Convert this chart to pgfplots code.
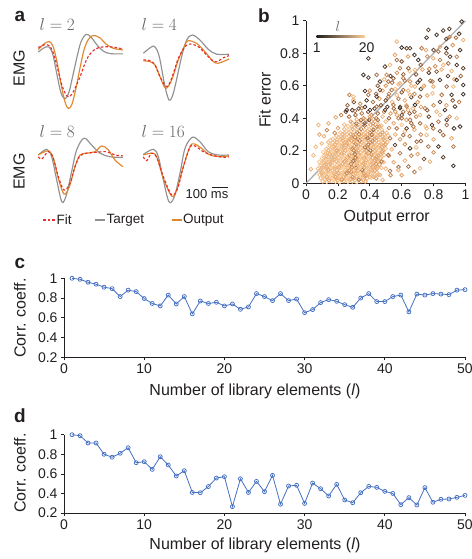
\documentclass[border=0pt]{standalone}
\usepackage{pgfplots}
\pgfplotsset{compat=1.18}
\usepackage{pgfplotstable}
\usepackage{fontspec}
\setmainfont{Liberation Sans}

\definecolor{txt}{RGB}{35,31,32}
\definecolor{tgtgray}{RGB}{145,145,145}
\definecolor{outorange}{RGB}{222,135,45}
\definecolor{fitred}{RGB}{232,45,45}
\definecolor{corrblue}{RGB}{70,112,192}
\definecolor{diaggray}{RGB}{175,175,175}
\definecolor{cbA}{RGB}{35,30,28}
\definecolor{cbB}{RGB}{170,110,65}
\definecolor{cbC}{RGB}{252,208,158}

\newcommand{\ticksize}{\fontsize{14}{16}\selectfont}
\newcommand{\labsize}{\fontsize{16}{18}\selectfont}
\newcommand{\panelsize}{\fontsize{19}{21}\selectfont\bfseries}

% correlation coefficient vs number of library elements
\pgfplotstableread{
l r
1 1.00
2 0.99
3 0.96
4 0.94
5 0.91
6 0.895
7 0.815
8 0.88
9 0.865
10 0.795
11 0.745
12 0.72
13 0.83
14 0.74
15 0.815
16 0.64
17 0.77
18 0.745
19 0.757
20 0.72
21 0.74
22 0.686
23 0.71
24 0.845
25 0.815
26 0.774
27 0.845
28 0.774
29 0.79
30 0.652
31 0.683
32 0.754
33 0.784
34 0.767
35 0.733
36 0.706
37 0.80
38 0.845
39 0.764
40 0.764
41 0.815
42 0.83
43 0.66
44 0.84
45 0.83
46 0.845
47 0.84
48 0.835
49 0.88
50 0.885
}\corrC

\pgfplotstableread{
l r
1 1.00
2 0.99
3 0.915
4 0.915
5 0.80
6 0.77
7 0.81
8 0.867
9 0.714
10 0.724
11 0.646
12 0.775
13 0.69
14 0.578
15 0.632
16 0.41
17 0.407
18 0.47
19 0.557
20 0.571
21 0.265
22 0.55
23 0.41
24 0.523
25 0.418
26 0.585
27 0.29
28 0.476
29 0.483
30 0.298
31 0.506
32 0.448
33 0.374
34 0.493
35 0.333
36 0.305
37 0.407
38 0.472
39 0.462
40 0.421
41 0.40
42 0.285
43 0.357
44 0.282
45 0.459
46 0.31
47 0.34
48 0.343
49 0.36
50 0.38
}\corrD

% output error, fit error, number of library elements
\pgfplotstableread{
x y l
0.105 0.012 18
0.130 0.008 16
0.158 0.014 19
0.185 0.010 17
0.210 0.006 20
0.238 0.013 15
0.262 0.009 18
0.290 0.012 17
0.318 0.007 19
0.345 0.013 16
0.372 0.010 14
0.092 0.032 17
0.118 0.027 19
0.145 0.034 18
0.170 0.028 20
0.197 0.033 16
0.224 0.029 18
0.250 0.035 17
0.276 0.028 19
0.303 0.033 15
0.330 0.029 18
0.356 0.034 17
0.383 0.030 16
0.410 0.035 19
0.440 0.030 13
0.085 0.052 18
0.112 0.048 17
0.138 0.055 20
0.163 0.050 16
0.190 0.054 18
0.216 0.047 19
0.243 0.053 15
0.268 0.049 18
0.295 0.055 17
0.320 0.048 20
0.348 0.053 16
0.374 0.050 12
0.400 0.055 18
0.428 0.049 17
0.455 0.053 15
0.100 0.072 16
0.126 0.068 19
0.152 0.074 17
0.178 0.069 18
0.205 0.073 20
0.230 0.067 16
0.257 0.074 18
0.283 0.070 11
0.310 0.075 17
0.336 0.068 19
0.362 0.073 16
0.390 0.070 18
0.415 0.075 14
0.443 0.069 17
0.075 0.090 18
0.100 0.095 15
0.128 0.088 17
0.155 0.093 19
0.180 0.089 16
0.207 0.094 18
0.233 0.088 20
0.260 0.093 17
0.286 0.089 19
0.312 0.095 9
0.338 0.090 18
0.365 0.094 16
0.392 0.088 17
0.418 0.093 19
0.446 0.090 15
0.472 0.095 17
0.090 0.112 17
0.117 0.108 19
0.143 0.114 16
0.168 0.109 18
0.195 0.113 20
0.222 0.107 17
0.248 0.114 15
0.273 0.110 18
0.300 0.115 19
0.326 0.108 10
0.353 0.113 17
0.380 0.109 18
0.406 0.114 16
0.433 0.110 19
0.460 0.115 14
0.083 0.132 19
0.110 0.128 16
0.136 0.135 18
0.162 0.130 17
0.188 0.134 19
0.214 0.128 20
0.240 0.133 16
0.266 0.129 18
0.292 0.135 17
0.318 0.130 12
0.345 0.134 19
0.371 0.128 16
0.397 0.133 18
0.423 0.129 17
0.450 0.134 15
0.487 0.130 17
0.100 0.152 18
0.126 0.148 15
0.153 0.154 19
0.178 0.149 17
0.205 0.155 18
0.230 0.148 16
0.257 0.153 20
0.283 0.150 17
0.310 0.155 11
0.335 0.148 18
0.362 0.153 16
0.388 0.149 19
0.414 0.155 17
0.440 0.150 14
0.468 0.154 18
0.115 0.172 17
0.142 0.168 19
0.167 0.174 16
0.193 0.169 18
0.220 0.173 20
0.246 0.168 17
0.272 0.174 9
0.298 0.170 18
0.325 0.175 16
0.350 0.168 19
0.377 0.173 12
0.403 0.169 17
0.430 0.174 18
0.456 0.170 15
0.490 0.174 17
0.520 0.169 14
0.108 0.192 19
0.135 0.188 16
0.160 0.194 18
0.187 0.190 17
0.213 0.195 19
0.238 0.188 15
0.265 0.193 18
0.290 0.189 20
0.316 0.195 10
0.342 0.190 17
0.368 0.194 18
0.395 0.188 16
0.420 0.193 19
0.447 0.189 17
0.475 0.195 13
0.128 0.212 17
0.155 0.208 18
0.180 0.214 16
0.207 0.209 19
0.233 0.213 17
0.260 0.208 18
0.286 0.214 12
0.312 0.210 17
0.338 0.215 19
0.364 0.209 16
0.390 0.213 8
0.417 0.209 18
0.443 0.214 17
0.470 0.210 15
0.500 0.214 18
0.538 0.209 16
0.148 0.232 18
0.174 0.228 16
0.200 0.234 19
0.226 0.229 17
0.252 0.235 15
0.278 0.228 18
0.305 0.233 17
0.330 0.229 11
0.357 0.234 18
0.383 0.230 16
0.410 0.235 19
0.436 0.229 17
0.462 0.234 14
0.490 0.230 17
0.140 0.252 17
0.167 0.248 19
0.193 0.254 16
0.220 0.249 18
0.245 0.255 17
0.272 0.248 20
0.298 0.253 10
0.324 0.249 17
0.350 0.255 18
0.377 0.250 16
0.403 0.254 12
0.430 0.248 18
0.456 0.253 17
0.483 0.249 15
0.510 0.254 17
0.168 0.272 18
0.195 0.268 16
0.220 0.274 19
0.247 0.269 17
0.273 0.273 15
0.300 0.268 18
0.326 0.274 9
0.352 0.270 17
0.378 0.275 18
0.405 0.269 16
0.430 0.273 11
0.457 0.269 18
0.484 0.274 16
0.190 0.292 17
0.216 0.288 19
0.243 0.294 16
0.270 0.289 18
0.296 0.295 12
0.322 0.288 17
0.348 0.293 18
0.375 0.289 10
0.400 0.294 17
0.427 0.290 16
0.453 0.295 18
0.480 0.289 13
0.515 0.293 17
0.215 0.312 18
0.242 0.308 16
0.268 0.314 17
0.295 0.309 19
0.320 0.313 11
0.347 0.308 17
0.373 0.314 18
0.400 0.310 9
0.425 0.315 16
0.452 0.309 18
0.480 0.314 12
0.505 0.310 17
0.240 0.332 17
0.266 0.328 19
0.292 0.334 15
0.318 0.329 18
0.345 0.335 10
0.370 0.328 17
0.397 0.333 16
0.423 0.329 8
0.450 0.334 17
0.476 0.330 18
0.262 0.352 18
0.288 0.348 16
0.315 0.354 12
0.340 0.350 17
0.367 0.355 9
0.393 0.349 18
0.420 0.353 15
0.446 0.349 11
0.473 0.354 17
0.290 0.372 17
0.316 0.368 10
0.342 0.374 18
0.368 0.369 7
0.395 0.373 16
0.420 0.368 12
0.447 0.374 17
0.318 0.392 16
0.344 0.388 9
0.370 0.394 17
0.397 0.390 6
0.423 0.395 15
0.450 0.389 10
0.118 0.022 18
0.145 0.018 15
0.172 0.022 20
0.198 0.018 17
0.225 0.022 13
0.252 0.018 19
0.278 0.022 16
0.305 0.018 18
0.332 0.022 10
0.360 0.018 17
0.105 0.042 19
0.132 0.038 15
0.158 0.042 20
0.185 0.038 14
0.212 0.042 18
0.238 0.038 16
0.265 0.042 19
0.292 0.038 12
0.318 0.042 17
0.345 0.038 18
0.372 0.042 15
0.400 0.038 17
0.098 0.062 16
0.125 0.058 18
0.150 0.062 20
0.177 0.058 17
0.203 0.062 15
0.230 0.058 19
0.256 0.062 11
0.282 0.058 18
0.310 0.062 16
0.336 0.058 20
0.362 0.062 14
0.390 0.058 17
0.418 0.062 19
0.088 0.082 17
0.114 0.078 19
0.140 0.082 15
0.167 0.078 18
0.193 0.082 16
0.220 0.078 20
0.246 0.082 17
0.272 0.078 13
0.300 0.082 18
0.326 0.078 16
0.352 0.082 10
0.380 0.078 19
0.405 0.082 17
0.432 0.078 15
0.104 0.102 18
0.130 0.098 16
0.156 0.102 19
0.182 0.098 17
0.208 0.102 15
0.235 0.098 20
0.262 0.102 18
0.288 0.098 12
0.314 0.102 17
0.340 0.098 19
0.366 0.102 16
0.393 0.098 18
0.420 0.102 14
0.447 0.098 17
0.097 0.122 19
0.123 0.118 17
0.150 0.122 15
0.176 0.118 20
0.202 0.122 18
0.228 0.118 16
0.255 0.122 19
0.281 0.118 11
0.307 0.122 17
0.334 0.118 18
0.360 0.122 15
0.387 0.118 19
0.413 0.122 17
0.440 0.118 13
0.112 0.142 18
0.138 0.138 20
0.165 0.142 16
0.191 0.138 17
0.218 0.142 19
0.244 0.138 15
0.270 0.142 18
0.297 0.138 9
0.323 0.142 17
0.350 0.138 19
0.376 0.142 16
0.402 0.138 18
0.430 0.142 15
0.456 0.138 17
0.128 0.162 17
0.154 0.158 19
0.180 0.162 16
0.207 0.158 18
0.233 0.162 20
0.260 0.158 15
0.286 0.162 17
0.312 0.158 12
0.338 0.162 18
0.365 0.158 16
0.390 0.162 19
0.417 0.158 17
0.443 0.162 14
0.470 0.158 18
0.122 0.182 18
0.148 0.178 16
0.175 0.182 19
0.200 0.178 17
0.226 0.182 15
0.253 0.178 20
0.280 0.182 18
0.306 0.178 10
0.332 0.182 17
0.358 0.178 19
0.384 0.182 16
0.410 0.178 13
0.437 0.182 18
0.463 0.178 16
0.140 0.202 17
0.167 0.198 19
0.193 0.202 15
0.220 0.198 18
0.246 0.202 16
0.272 0.198 20
0.300 0.202 11
0.326 0.198 17
0.352 0.202 18
0.378 0.198 15
0.404 0.202 9
0.430 0.198 17
0.457 0.202 19
0.484 0.198 16
0.160 0.222 18
0.186 0.218 17
0.213 0.222 20
0.240 0.218 16
0.266 0.222 18
0.292 0.218 13
0.318 0.222 17
0.344 0.218 19
0.370 0.222 10
0.397 0.218 17
0.423 0.222 16
0.450 0.218 18
0.476 0.222 15
0.155 0.242 19
0.181 0.238 16
0.207 0.242 18
0.233 0.238 17
0.260 0.242 15
0.286 0.238 19
0.312 0.242 12
0.338 0.238 17
0.364 0.242 18
0.390 0.238 11
0.417 0.242 16
0.443 0.238 18
0.470 0.242 17
0.497 0.238 14
0.180 0.262 17
0.206 0.258 19
0.232 0.262 16
0.258 0.258 18
0.285 0.262 15
0.311 0.258 17
0.337 0.262 10
0.363 0.258 18
0.390 0.262 16
0.416 0.258 12
0.442 0.262 17
0.468 0.258 19
0.495 0.262 15
0.203 0.282 18
0.229 0.278 16
0.255 0.282 19
0.282 0.278 17
0.308 0.282 11
0.335 0.278 18
0.361 0.282 16
0.387 0.278 9
0.413 0.282 17
0.440 0.278 15
0.466 0.282 18
0.493 0.278 16
0.228 0.302 17
0.255 0.298 19
0.281 0.302 15
0.307 0.298 18
0.333 0.302 12
0.360 0.298 17
0.386 0.302 16
0.412 0.298 10
0.438 0.302 18
0.465 0.298 15
0.490 0.302 17
0.22 0.42 11
0.25 0.44 6
0.27 0.41 9
0.29 0.45 4
0.31 0.42 8
0.33 0.46 5
0.35 0.43 10
0.37 0.47 3
0.39 0.44 7
0.41 0.42 12
0.43 0.46 4
0.45 0.43 9
0.47 0.48 6
0.49 0.44 11
0.51 0.47 3
0.53 0.43 14
0.55 0.46 8
0.57 0.42 16
0.59 0.47 5
0.61 0.44 10
0.63 0.48 15
0.65 0.43 7
0.67 0.46 17
0.69 0.41 12
0.26 0.48 8
0.30 0.50 5
0.34 0.49 12
0.38 0.51 3
0.42 0.50 9
0.46 0.52 14
0.50 0.51 6
0.54 0.50 17
0.58 0.52 10
0.62 0.51 15
0.66 0.53 4
0.70 0.50 13
0.28 0.38 15
0.24 0.36 17
0.20 0.34 14
0.18 0.31 12
0.44 0.55 8
0.48 0.57 15
0.52 0.55 11
0.56 0.58 18
0.60 0.56 7
0.64 0.57 16
0.68 0.55 12
0.72 0.58 5
0.76 0.54 14
0.50 0.60 13
0.54 0.62 9
0.58 0.61 17
0.62 0.63 10
0.66 0.60 16
0.70 0.62 3
0.74 0.60 13
0.78 0.63 8
0.46 0.35 14
0.50 0.38 17
0.52 0.34 12
0.55 0.37 15
0.58 0.40 11
0.60 0.36 18
0.63 0.39 14
0.66 0.37 9
0.56 0.30 16
0.59 0.27 13
0.62 0.32 17
0.65 0.29 10
0.68 0.33 15
0.72 0.30 12
0.75 0.35 18
0.36 0.40 12
0.40 0.41 15
0.44 0.40 10
0.48 0.41 17
0.52 0.40 8
0.56 0.44 13
0.60 0.42 5
0.64 0.45 16
0.68 0.44 9
0.72 0.47 14
0.76 0.45 6
0.80 0.48 12
0.84 0.50 4
0.88 0.48 15
0.92 0.51 7
0.96 0.50 11
0.40 0.57 13
0.45 0.60 7
0.49 0.64 16
0.53 0.66 4
0.57 0.68 13
0.61 0.67 8
0.65 0.69 18
0.69 0.67 6
0.73 0.70 15
0.77 0.68 3
0.81 0.72 12
0.85 0.70 16
0.89 0.66 5
0.93 0.64 14
0.97 0.66 8
0.60 0.75 6
0.64 0.78 14
0.68 0.79 3
0.76 0.78 12
0.80 0.82 5
0.84 0.84 15
0.88 0.80 7
0.92 0.85 13
0.96 0.92 3
0.90 0.90 11
0.86 0.94 4
0.70 0.18 14
0.74 0.15 6
0.80 0.19 12
0.86 0.16 4
0.62 0.14 16
0.66 0.17 11
0.55 0.13 15
0.58 0.10 8
0.50 0.09 17
0.53 0.05 12
0.48 0.02 16
0.60 0.05 14
0.68 0.07 10
0.72 0.26 8
0.80 0.27 15
0.84 0.32 6
0.90 0.41 12
0.77 0.41 5
0.62 0.24 12
0.69 0.22 17
0.976 0.995 2
0.899 0.950 3
0.767 0.944 4
0.819 0.913 2
0.880 0.888 5
0.940 0.896 9
0.986 0.882 16
0.756 0.896 3
0.569 0.872 17
0.652 0.831 3
0.631 0.831 5
0.600 0.835 2
0.725 0.831 10
0.752 0.820 15
0.391 0.769 3
0.830 0.810 9
0.880 0.831 2
0.903 0.779 4
0.945 0.779 11
0.966 0.820 3
0.704 0.759 2
0.719 0.728 8
0.798 0.769 16
0.840 0.759 10
0.861 0.728 17
0.892 0.738 9
0.945 0.728 3
0.986 0.708 4
0.558 0.790 15
0.569 0.759 9
0.527 0.728 17
0.495 0.718 4
0.589 0.708 10
0.642 0.708 8
0.683 0.697 16
0.773 0.704 11
0.819 0.687 7
0.913 0.691 17
0.360 0.667 2
0.391 0.650 4
0.443 0.667 9
0.506 0.667 11
0.548 0.646 8
0.610 0.646 10
0.464 0.626 3
0.516 0.626 9
0.589 0.615 16
0.652 0.626 12
0.715 0.636 4
0.793 0.626 10
0.840 0.636 3
0.945 0.636 2
0.924 0.595 17
0.986 0.605 3
0.882 0.595 9
0.798 0.595 15
0.736 0.595 18
0.683 0.595 16
0.370 0.568 3
0.464 0.574 5
0.537 0.574 10
0.610 0.574 9
0.272 0.544 11
0.297 0.533 17
0.297 0.513 16
0.391 0.544 9
0.443 0.533 4
0.516 0.533 10
0.569 0.544 17
0.652 0.544 16
0.715 0.533 8
0.793 0.554 17
0.851 0.544 10
0.913 0.544 3
0.986 0.548 2
0.255 0.451 3
0.307 0.445 9
0.349 0.462 10
0.401 0.451 3
0.443 0.472 9
0.495 0.451 4
0.548 0.482 10
0.589 0.462 3
0.631 0.472 11
0.683 0.482 2
0.746 0.462 10
0.819 0.441 16
0.871 0.451 3
0.934 0.472 4
0.945 0.400 17
0.966 0.349 2
0.928 0.338 3
0.882 0.390 4
0.830 0.379 10
0.790 0.359 3
0.756 0.338 16
0.715 0.369 9
0.673 0.349 10
0.631 0.338 4
0.924 0.107 2
0.777 0.133 16
0.715 0.092 17
0.642 0.103 9
0.579 0.082 16
0.527 0.076 10
0.464 0.051 17
0.422 0.041 16
0.830 0.226 3
0.924 0.226 10
0.913 0.277 16
0.861 0.297 9
0.767 0.226 10
0.756 0.297 17
0.694 0.256 9
0.652 0.215 3
0.589 0.185 10
0.558 0.236 4
0.516 0.174 9
0.474 0.133 10
0.882 0.359 9
0.798 0.338 10
0.840 0.420 17
0.715 0.420 16
0.652 0.390 10
0.600 0.400 9
0.569 0.338 10
0.610 0.297 9
0.527 0.277 10
0.078 0.359 17
0.141 0.369 16
0.061 0.224 18
0.099 0.245 17
0.187 0.406 15
0.131 0.327 11
0.152 0.265 18
0.046 0.172 17
0.030 0.087 16
0.084 0.300 15
0.113 0.290 16
}\scat

\pgfplotsset{
  emg/.style={hide axis, scale only axis, width=86.67pt, height=84pt,
    xmin=0, xmax=520, ymin=-2.1, ymax=0.7, clip=false},
  tgt/.style={tgtgray, line width=1.15pt, smooth, tension=0.55, no marks},
  outp/.style={outorange, line width=1.15pt, smooth, tension=0.55, no marks},
  fitc/.style={fitred, line width=1.15pt, smooth, tension=0.55, no marks, dash pattern=on 2.6pt off 2pt},
  lined/.style={scale only axis, axis lines=left, axis line style={-, line width=0.7pt, txt},
    tick align=outside, major tick length=3pt, tick style={txt, line width=0.7pt},
    every tick label/.append style={font=\ticksize, text=txt},
    /pgf/number format/assume math mode=true,
    /pgf/number format/fixed, /pgf/number format/precision=1},
  corr/.style={lined, width=401pt, height=79pt, xmin=0, xmax=50, ymin=0.2, ymax=1,
    xtick={0,10,20,30,40,50}, ytick={0.2,0.4,0.6,0.8,1}, clip=false},
  corrline/.style={corrblue, line width=0.8pt, mark=o, mark size=2pt, mark options={line width=0.75pt}},
}

\begin{document}
\begin{tikzpicture}[x=1pt, y=1pt]
\path[use as bounding box] (0,0) rectangle (471,559);

% ---------- panel a: EMG waveforms ----------
\begin{axis}[emg, at={(37pt,446pt)}, anchor=south west]
\addplot[tgt] coordinates {(8,-0.07)(42,0.07)(72,0.10)(96,-0.17)(120,-0.83)(144,-1.43)(168,-1.62)(192,-1.40)(216,-0.83)(240,-0.23)(264,0.27)(294,0.52)(324,0.43)(360,0.17)(396,-0.03)(438,-0.12)(516,-0.13)};
\addplot[outp] coordinates {(8,0.02)(42,0.20)(72,0.28)(96,0.13)(120,-0.40)(144,-1.13)(168,-1.73)(188,-1.95)(210,-1.80)(234,-1.27)(258,-0.60)(282,0.00)(306,0.33)(330,0.47)(348,0.48)(378,0.40)(414,0.20)(456,0.06)(516,0.00)};
\addplot[fitc] coordinates {(8,0.08)(42,0.17)(72,0.15)(96,-0.07)(120,-0.53)(144,-1.07)(168,-1.43)(188,-1.56)(210,-1.47)(234,-1.20)(258,-0.90)(282,-0.53)(306,-0.23)(336,-0.03)(366,0.07)(408,0.11)(450,0.10)(486,0.07)(516,0.03)};
\end{axis}
\begin{axis}[emg, at={(143pt,446pt)}, anchor=south west]
\addplot[tgt] coordinates {(2,-0.11)(30,0.02)(62,0.13)(84,0.00)(102,-0.33)(132,-1.22)(156,-1.67)(174,-1.57)(192,-1.22)(232,-0.22)(262,0.33)(296,0.50)(342,0.33)(392,0.02)(442,-0.14)(516,-0.14)};
\addplot[outp] coordinates {(2,-0.36)(42,-0.39)(72,-0.50)(102,-0.89)(136,-1.28)(172,-1.00)(212,-0.33)(252,0.17)(272,0.31)(322,0.22)(372,-0.06)(422,-0.39)(452,-0.44)(492,-0.36)(516,-0.30)};
\addplot[fitc] coordinates {(2,-0.33)(42,-0.36)(72,-0.50)(102,-0.89)(142,-1.22)(172,-0.94)(212,-0.28)(252,0.11)(282,0.20)(332,0.11)(372,-0.11)(412,-0.33)(442,-0.39)(482,-0.26)(516,-0.19)};
\end{axis}
\begin{axis}[emg, at={(37pt,341pt)}, anchor=south west]
\addplot[tgt] coordinates {(8,0.00)(58,0.19)(88,-0.06)(118,-0.83)(150,-1.57)(178,-1.30)(208,-0.55)(238,0.17)(282,0.56)(328,0.33)(378,0.06)(438,-0.06)(516,-0.08)};
\addplot[outp] coordinates {(8,0.00)(68,0.14)(98,-0.11)(128,-0.78)(162,-1.30)(194,-1.06)(228,-0.39)(258,0.00)(298,0.06)(348,0.11)(388,0.30)(428,0.17)(468,-0.17)(516,-0.39)};
\addplot[fitc] coordinates {(8,-0.06)(28,-0.14)(68,0.11)(98,-0.11)(128,-0.72)(162,-1.17)(198,-0.94)(228,-0.39)(258,-0.03)(298,0.06)(358,0.09)(418,0.11)(468,0.00)(516,-0.03)};
\end{axis}
\begin{axis}[emg, at={(143pt,341pt)}, anchor=south west]
\addplot[tgt] coordinates {(2,0.02)(62,0.19)(92,-0.06)(122,-0.83)(156,-1.56)(188,-1.39)(222,-0.61)(252,0.22)(296,0.59)(342,0.44)(392,0.11)(452,0.00)(516,0.00)};
\addplot[outp] coordinates {(2,0.00)(52,0.06)(82,-0.06)(122,-0.78)(172,-1.37)(202,-1.17)(242,-0.39)(282,0.28)(308,0.37)(352,0.22)(402,0.00)(472,-0.06)(516,-0.02)};
\addplot[fitc] coordinates {(2,-0.06)(22,-0.19)(52,0.06)(82,-0.08)(122,-0.72)(172,-1.33)(208,-1.11)(242,-0.39)(282,0.26)(312,0.30)(362,0.11)(412,0.00)(462,-0.06)(492,-0.08)(516,-0.06)};
\end{axis}

\node[font=\panelsize, text=txt] at (20,542.3) {a};
\node[font=\fontsize{16}{18}\selectfont, text=gray!80!black, anchor=west] at (36,534) {$l=2$};
\node[font=\fontsize{16}{18}\selectfont, text=gray!80!black, anchor=west] at (138,534) {$l=4$};
\node[font=\fontsize{16}{18}\selectfont, text=gray!80!black, anchor=west] at (36,427.3) {$l=8$};
\node[font=\fontsize{16}{18}\selectfont, text=gray!80!black, anchor=west] at (138,427.3) {$l=16$};
\node[font=\labsize, text=txt, rotate=90] at (19,490.7) {EMG};
\node[font=\labsize, text=txt, rotate=90] at (19,387.3) {EMG};
% 100 ms scale bar
\draw[txt, line width=1.4pt] (211.7,371.7) -- (228.3,371.7);
\node[font=\fontsize{13}{15}\selectfont, text=txt] at (207,364.5) {100 ms};
% legend of panel a
\draw[fitred, line width=1.15pt, dash pattern=on 2.6pt off 2pt] (43,339) -- (55,339);
\node[font=\fontsize{13.5}{15}\selectfont, text=txt, anchor=west, inner sep=0.5pt] at (56,339) {Fit};
\draw[tgtgray, line width=1.15pt] (95,339) -- (105,339);
\node[font=\fontsize{13.5}{15}\selectfont, text=txt, anchor=west, inner sep=0.5pt] at (106,339) {Target};
\draw[outorange, line width=1.15pt] (172,339) -- (182,339);
\node[font=\fontsize{13.5}{15}\selectfont, text=txt, anchor=west, inner sep=0.5pt] at (182.5,339) {Output};

% ---------- panel b: fit error vs output error ----------
\begin{axis}[lined, at={(306pt,375.7pt)}, anchor=south west,
  width=159.5pt, height=162.5pt, xmin=0, xmax=1, ymin=0, ymax=1,
  xtick={0,0.2,0.4,0.6,0.8,1}, ytick={0,0.2,0.4,0.6,0.8,1},
  colormap={libl}{rgb255=(35,30,28) rgb255=(140,90,55) rgb255=(225,155,95) rgb255=(252,208,158)},
  point meta min=1, point meta max=20, clip=false]
\addplot[scatter, only marks, mark=o, mark size=1.9pt, point meta=explicit,
  scatter/use mapped color={draw=mapped color}, mark options={line width=0.75pt}]
  table[x=x, y=y, meta=l] {\scat};
\addplot[diaggray, line width=1.3pt, no marks] coordinates {(0,0) (1,1)};
\end{axis}
\node[font=\panelsize, text=txt] at (264,543) {b};
\node[font=\labsize, text=txt, rotate=90] at (265,459) {Fit error};
\node[font=\labsize, text=txt] at (386.7,341) {Output error};
% colour key for l
\shade[left color=cbA, middle color=cbB, right color=cbC] (316.7,521.4) rectangle (365,523.4);
\node[font=\fontsize{15}{17}\selectfont, text=gray!80!black] at (338,532) {$l$};
\node[font=\ticksize, text=txt] at (316.7,511.5) {1};
\node[font=\ticksize, text=txt] at (366.7,511.5) {20};

% ---------- panel c ----------
\begin{axis}[corr, at={(64pt,201.7pt)}, anchor=south west]
\addplot[corrline] table[x=l, y=r] {\corrC};
\end{axis}
\node[font=\panelsize, text=txt] at (20,296) {c};
\node[font=\labsize, text=txt, rotate=90] at (20,241) {Corr. coeff.};
\node[font=\labsize, text=txt] at (255,167.3) {Number of library elements (\textit{l})};

% ---------- panel d ----------
\begin{axis}[corr, at={(64pt,46pt)}, anchor=south west, height=78.3pt]
\addplot[corrline] table[x=l, y=r] {\corrD};
\end{axis}
\node[font=\panelsize, text=txt] at (20,143) {d};
\node[font=\labsize, text=txt, rotate=90] at (20,86) {Corr. coeff.};
\node[font=\labsize, text=txt] at (255,13.3) {Number of library elements (\textit{l})};
\end{tikzpicture}
\end{document}
